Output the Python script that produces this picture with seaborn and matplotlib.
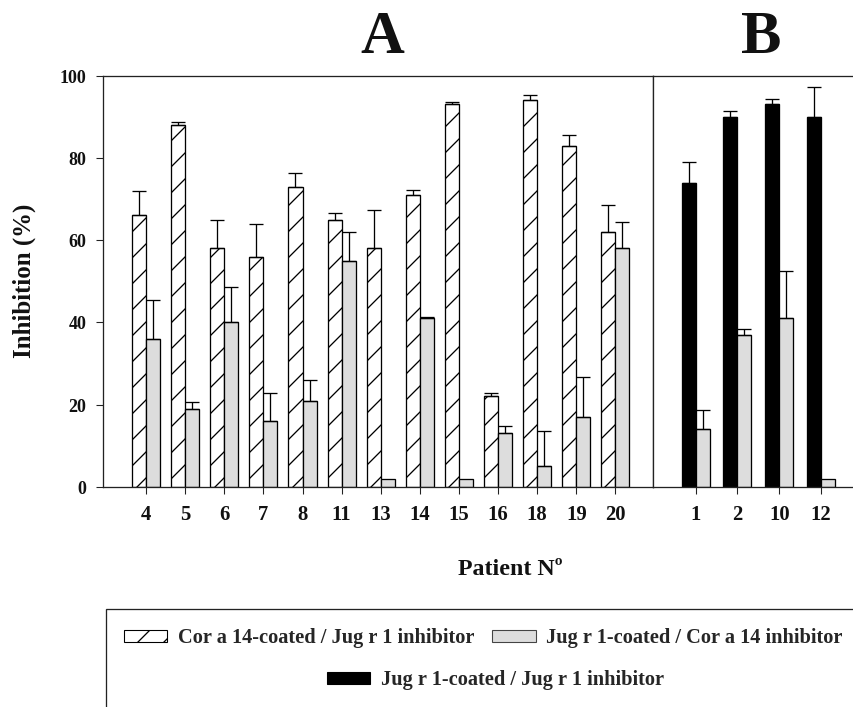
import numpy as np
import pandas as pd
import matplotlib
matplotlib.use("Agg")
import matplotlib.pyplot as plt
from matplotlib.patches import Patch, Rectangle
import seaborn as sns

# --- data ---
patients_a = ["4", "5", "6", "7", "8", "11", "13", "14", "15", "16", "18", "19", "20"]
cor14_jug1 = [66, 88, 58, 56, 73, 65, 58, 71, 93, 22, 94, 83, 62]
cor14_jug1_err = [6, 0.8, 7, 8, 3.4, 1.6, 9.4, 1.3, 0.6, 0.8, 1.2, 2.5, 6.6]
jug1_cor14_a = [36, 19, 40, 16, 21, 55, 2, 41, 2, 13, 5, 17, 58]
jug1_cor14_a_err = [9.5, 1.7, 8.7, 6.8, 4.9, 7, np.nan, 0.3, np.nan, 1.9, 8.6, 9.7, 6.5]

patients_b = ["1", "2", "10", "12"]
jug1_jug1 = [74, 90, 93, 90]
jug1_jug1_err = [5, 1.4, 1.2, 7.3]
jug1_cor14_b = [14, 37, 41, 2]
jug1_cor14_b_err = [4.6, 1.5, 11.4, np.nan]

S1 = "Cor a 14-coated / Jug r 1 inhibitor"
S2 = "Jug r 1-coated / Cor a 14 inhibitor"
S3 = "Jug r 1-coated / Jug r 1 inhibitor"
colors = {S1: "white", S2: "#dddddd", S3: "black"}

dfA = pd.DataFrame({
    "patient": patients_a * 2,
    "series": [S1] * len(patients_a) + [S2] * len(patients_a),
    "value": cor14_jug1 + jug1_cor14_a,
    "err": cor14_jug1_err + jug1_cor14_a_err,
})
dfB = pd.DataFrame({
    "patient": patients_b * 2,
    "series": [S3] * len(patients_b) + [S2] * len(patients_b),
    "value": jug1_jug1 + jug1_cor14_b,
    "err": jug1_jug1_err + jug1_cor14_b_err,
})

sns.set_style("ticks")
plt.rcParams["font.family"] = ["Liberation Serif", "DejaVu Serif"]
plt.rcParams["font.weight"] = "bold"
plt.rcParams["hatch.linewidth"] = 0.6
plt.rcParams["hatch.color"] = "black"

DPI = 156
W, H = 853, 707
fig = plt.figure(figsize=((W + 0.4) / DPI, (H + 0.4) / DPI), dpi=DPI)

axA = fig.add_axes([103 / W, 1 - 487 / H, 550 / W, 411 / H])
axB = fig.add_axes([653 / W, 1 - 487 / H, 200 / W, 411 / H])

txt = "#111111"
spine_c = "#222222"


def draw_panel(ax, df, order, hue_order, width):
    sns.barplot(data=df, x="patient", y="value", hue="series", order=order,
                hue_order=hue_order, palette=colors, saturation=1, width=width,
                errorbar=None, legend=False, edgecolor="black", linewidth=0.6,
                ax=ax)
    bars = list(ax.patches)
    n = len(order)
    for i, s in enumerate(hue_order):
        sub = df[df["series"] == s].set_index("patient").loc[order]
        group = bars[i * n:(i + 1) * n]
        if s == S1:
            for p in group:
                p.set_hatch("//")
        xs = [p.get_x() + p.get_width() / 2 for p in group]
        tops = [p.get_height() for p in group]
        errs = sub["err"].to_numpy()
        ok = ~np.isnan(errs)
        xs = np.array(xs)[ok]
        tops = np.array(tops)[ok]
        e = errs[ok]
        ax.errorbar(xs, tops, yerr=[np.zeros_like(e), e], fmt="none",
                    ecolor="black", elinewidth=0.6, capsize=3.2, capthick=0.6,
                    zorder=5)
    ax.set_ylim(0, 100)
    ax.set_xlabel("")
    ax.set_ylabel("")
    ax.tick_params(axis="x", direction="out", length=3.2, width=0.5,
                   color=spine_c, pad=5, labelsize=9.5, labelcolor=txt)
    for sp in ax.spines.values():
        sp.set_linewidth(0.6)
        sp.set_color(spine_c)


draw_panel(axA, dfA, patients_a, [S1, S2], 0.72)
draw_panel(axB, dfB, patients_b, [S3, S2], 0.67)

axA.set_xlim(-1.10, 12.97)
axB.set_xlim(-1.01, 3.77)

axA.set_yticks([0, 20, 40, 60, 80, 100])
axA.tick_params(axis="y", direction="out", length=3.2, width=0.5,
                color=spine_c, pad=4.6, labelsize=8.3, labelcolor=txt)
axB.set_yticks([])
axB.spines["right"].set_visible(False)

for lab in axA.get_xticklabels() + axB.get_xticklabels() + axA.get_yticklabels():
    lab.set_fontweight("bold")

# panel letters and axis labels
fig.text(382 / W, 1 - 37.5 / H, "A", ha="center", va="center", fontsize=28,
         fontweight="bold", color=txt)
fig.text(761 / W, 1 - 37.5 / H, "B", ha="center", va="center", fontsize=28,
         fontweight="bold", color=txt)
fig.text(24 / W, 1 - 281 / H, "Inhibition (%)", rotation=90, ha="center",
         va="center", fontsize=11.5, fontweight="bold", color=txt)
fig.text(510 / W, 1 - 569 / H, "Patient Nº", ha="center", va="center",
         fontsize=11, fontweight="bold", color=txt)

# legend box (runs off the right and bottom edge)
fig.add_artist(Rectangle((106 / W, -0.1), 900 / W, (0.1 + 1 - 609 / H),
                         transform=fig.transFigure, fill=False,
                         edgecolor=spine_c, linewidth=0.6, clip_on=False))

h1 = Patch(facecolor="white", edgecolor="black", hatch="//", linewidth=0.5, label=S1)
h2 = Patch(facecolor=colors[S2], edgecolor="#444444", linewidth=0.5, label=S2)
h3 = Patch(facecolor="black", edgecolor="black", linewidth=0.5, label=S3)
leg_kw = dict(frameon=False, loc="center", handlelength=2.15, handleheight=0.5,
              handletextpad=0.5, columnspacing=0.9,
              prop={"family": ["Liberation Serif"], "weight": "bold", "size": 9.4})
fig.legend(handles=[h1, h2], ncol=2, bbox_to_anchor=(483 / W, 1 - 638 / H), **leg_kw)
fig.legend(handles=[h3], ncol=1, bbox_to_anchor=(495 / W, 1 - 680 / H), **leg_kw)

fig.savefig("out.png", dpi=DPI)
